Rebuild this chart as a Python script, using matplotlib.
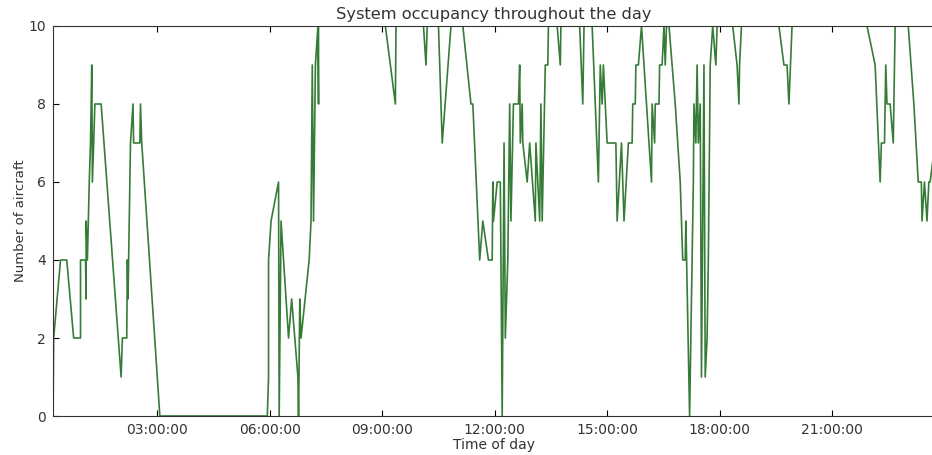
"""Plot the system occupancy (aircraft in the system) over one day."""

import matplotlib

matplotlib.use("Agg")
import matplotlib.dates as mdates
import matplotlib.pyplot as plt
import pandas as pd

# Time stamps (HH:MM) at which the occupancy changes
times = [
    "00:13", "00:14", "00:25", "00:35", "00:46", "00:57", "00:57", "01:05",
    "01:06", "01:06", "01:08", "01:11", "01:13", "01:15", "01:16", "01:20",
    "01:30", "02:02", "02:04", "02:11", "02:12", "02:13", "02:15", "02:17",
    "02:21", "02:22", "02:32", "02:33", "02:35", "03:04", "05:56", "05:58",
    "05:58", "06:02", "06:14", "06:15", "06:18", "06:30", "06:35", "06:45",
    "06:46", "06:48", "06:50", "07:03", "07:06", "07:08", "07:10", "07:13",
    "07:17", "07:18", "07:18", "09:05", "09:21", "09:22", "10:06", "10:10",
    "10:12", "10:30", "10:36", "10:50", "11:09", "11:22", "11:25", "11:36",
    "11:41", "11:50", "11:56", "11:57", "11:58", "12:04", "12:09", "12:12",
    "12:15", "12:17", "12:21", "12:24", "12:26", "12:30", "12:38", "12:40",
    "12:41", "12:44", "12:45", "12:52", "12:56", "13:05", "13:06", "13:12",
    "13:14", "13:16", "13:21", "13:25", "13:26", "13:40", "13:45", "13:46",
    "14:16", "14:21", "14:23", "14:36", "14:46", "14:49", "14:52", "14:54",
    "15:00", "15:14", "15:16", "15:23", "15:27", "15:34", "15:40", "15:41",
    "15:45", "15:46", "15:50", "15:55", "16:11", "16:12", "16:16", "16:17",
    "16:23", "16:24", "16:28", "16:31", "16:33", "16:35", "16:39", "16:49",
    "16:57", "17:01", "17:05", "17:06", "17:12", "17:18", "17:19", "17:22",
    "17:24", "17:26", "17:29", "17:31", "17:35", "17:37", "17:40", "17:42",
    "17:45", "17:49", "17:54", "17:56", "18:21", "18:28", "18:31", "18:32",
    "18:35", "19:35", "19:43", "19:48", "19:51", "19:56", "21:56", "22:09",
    "22:17", "22:19", "22:24", "22:26", "22:28", "22:33", "22:38", "22:41",
    "23:02", "23:11", "23:18", "23:23", "23:24", "23:28", "23:32", "23:35",
    "23:37", "23:45",
]

# Number of aircraft in the system at each time stamp
aircraft = [
    0, 2, 4, 4, 2, 2, 4, 4,
    3, 5, 4, 6, 7, 9, 6, 8,
    8, 1, 2, 2, 4, 3, 5, 7,
    8, 7, 7, 8, 7, 0, 0, 1,
    4, 5, 6, 0, 5, 2, 3, 1,
    0, 3, 2, 4, 5, 9, 5, 9,
    10, 8, 10, 10, 8, 10, 10, 9,
    10, 10, 7, 10, 10, 8, 8, 4,
    5, 4, 4, 6, 5, 6, 6, 0,
    7, 2, 4, 8, 5, 8, 8, 9,
    7, 8, 7, 6, 7, 5, 7, 5,
    8, 5, 9, 9, 10, 10, 9, 10,
    10, 8, 10, 10, 6, 9, 8, 9,
    7, 7, 5, 7, 5, 7, 7, 8,
    8, 9, 9, 10, 6, 8, 7, 8,
    8, 9, 9, 10, 9, 10, 10, 8,
    6, 4, 4, 5, 0, 6, 8, 7,
    9, 7, 8, 1, 9, 1, 2, 4,
    9, 10, 9, 10, 10, 9, 8, 9,
    10, 10, 9, 9, 8, 10, 10, 9,
    6, 7, 7, 9, 8, 8, 7, 10,
    10, 8, 6, 6, 5, 6, 5, 6,
    6, 7,
]

y_ticks = [0, 2, 4, 6, 8, 10]
x_end = "23:44:30"


def to_datetime(labels: list[str]) -> pd.DatetimeIndex:
    """Attach the clock times to an arbitrary day so they can be plotted."""
    return pd.to_datetime(["2000-01-01 " + t for t in labels])


def plot_occupancy(save_path: str = "out.png") -> None:
    """Draw the occupancy line and save it."""
    stamps = to_datetime(times)
    end = to_datetime([x_end])[0]

    fig = plt.figure(figsize=(9.32, 4.55), dpi=100)
    ax = fig.add_axes([0.0569, 0.0857, 0.9461, 0.8572])

    ax.plot(stamps, aircraft, color="#367c36", linewidth=1.2)

    ax.set_xlim(stamps[0], end)
    ax.set_ylim(0, 10)
    ax.set_yticks(y_ticks)

    ax.xaxis.set_major_locator(mdates.HourLocator(byhour=range(3, 24, 3)))
    ax.xaxis.set_major_formatter(mdates.DateFormatter("%H:%M:%S"))

    ax.tick_params(
        direction="in", length=4, width=0.8, top=True, right=False,
        labelsize=10, labelcolor="#333333", pad=5,
    )
    for spine in ax.spines.values():
        spine.set_color("#333333")

    ax.set_title("System occupancy throughout the day", fontsize=11.7,
                 color="#333333", pad=5)
    ax.set_xlabel("Time of day", fontsize=10, color="#333333", labelpad=1)
    ax.set_ylabel("Number of aircraft", fontsize=9.5, color="#333333",
                  labelpad=1)

    fig.savefig(save_path, dpi=100)
    plt.close(fig)


if __name__ == "__main__":
    plot_occupancy()
